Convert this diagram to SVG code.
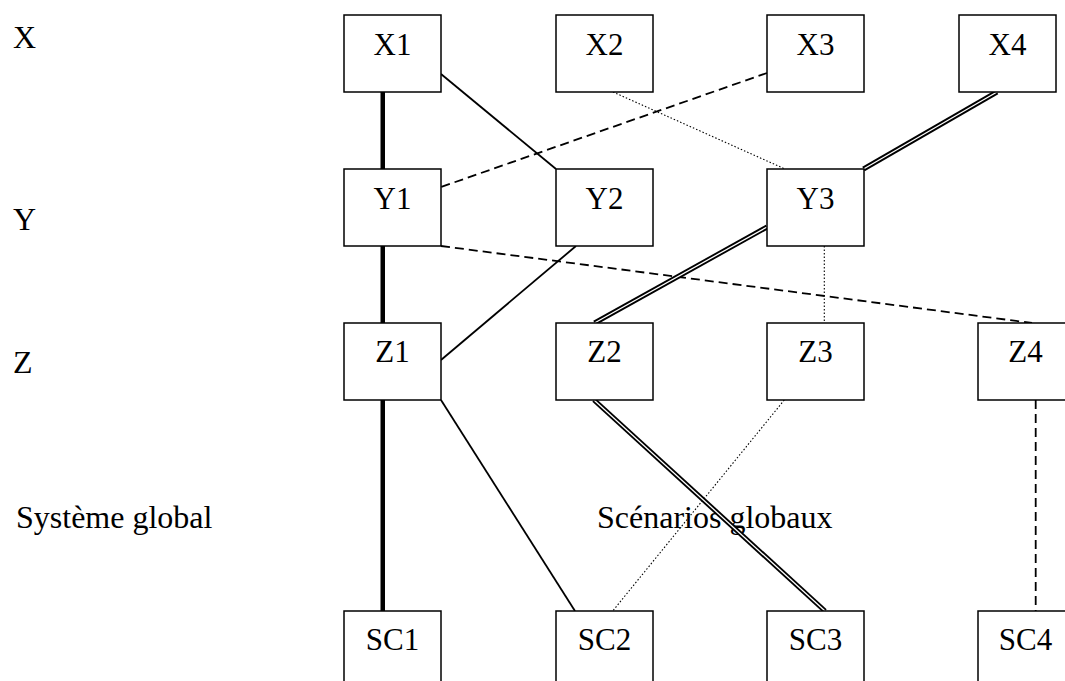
<svg xmlns="http://www.w3.org/2000/svg" width="1065" height="681" viewBox="0 0 1065 681">
  <style>
    text { font-family: "Liberation Serif", "Times New Roman", serif; font-size: 32px; fill: #000; }
    .lbl { text-anchor: middle; font-size: 31px; }
    .box { fill: #fff; stroke: #000; stroke-width: 1.5; }
    .thick { stroke: #000; stroke-width: 4.5; fill: none; }
    .thin { stroke: #000; stroke-width: 1.8; fill: none; }
    .dash { stroke: #000; stroke-width: 1.8; stroke-dasharray: 9 5; fill: none; }
    .dot { stroke: #000; stroke-width: 1.1; stroke-dasharray: 1.5 2; fill: none; }
    .dbl-out { stroke: #000; stroke-width: 5; fill: none; }
    .dbl-in { stroke: #fff; stroke-width: 1.3; fill: none; }
  </style>
  <rect width="1065" height="681" fill="#fff"/>

  <!-- level captions -->
  <g id="captions">
    <text x="13" y="48">X</text>
    <text x="13" y="230">Y</text>
    <text x="13" y="373">Z</text>
    <text x="16" y="528">Système global</text>
    <text x="597" y="528">Scénarios globaux</text>
  </g>

  <!-- links between levels -->
  <g id="connectors">
    <!-- thick solid chain down the first column -->
    <line class="thick" x1="382.75" y1="92" x2="382.75" y2="169"/>
    <line class="thick" x1="382.75" y1="246" x2="382.75" y2="323"/>
    <line class="thick" x1="382.75" y1="400" x2="382.75" y2="611"/>
    <!-- thin solid -->
    <line class="thin" x1="441" y1="74" x2="556" y2="169"/>
    <line class="thin" x1="576" y1="246" x2="441" y2="360"/>
    <line class="thin" x1="441" y1="400" x2="575" y2="611"/>
    <!-- dashed -->
    <line class="dash" x1="767" y1="73" x2="441" y2="187"/>
    <line class="dash" x1="441" y1="246" x2="1032" y2="323"/>
    <line class="dash" x1="1035.7" y1="400" x2="1035.7" y2="611"/>
    <!-- dotted -->
    <line class="dot" x1="613" y1="92" x2="785" y2="169"/>
    <line class="dot" x1="824.3" y1="246" x2="824.3" y2="323"/>
    <line class="dot" x1="784.3" y1="400" x2="612.7" y2="611"/>
    <!-- double lines -->
    <g id="dbl-x4-y3">
      <line class="dbl-out" x1="997" y1="92" x2="863.5" y2="169"/>
      <line class="dbl-in" x1="997" y1="92" x2="863.5" y2="169"/>
    </g>
    <g id="dbl-y3-z2">
      <line class="dbl-out" x1="767" y1="227" x2="594.5" y2="323"/>
      <line class="dbl-in" x1="767" y1="227" x2="594.5" y2="323"/>
    </g>
    <g id="dbl-z2-sc3">
      <line class="dbl-out" x1="594" y1="400" x2="825" y2="611"/>
      <line class="dbl-in" x1="594" y1="400" x2="825" y2="611"/>
    </g>
  </g>

  <!-- row X -->
  <g id="X1"><rect class="box" x="344" y="15" width="97" height="77"/><text class="lbl" x="392.5" y="55">X1</text></g>
  <g id="X2"><rect class="box" x="556" y="15" width="97" height="77"/><text class="lbl" x="604.5" y="55">X2</text></g>
  <g id="X3"><rect class="box" x="767" y="15" width="97" height="77"/><text class="lbl" x="815.5" y="55">X3</text></g>
  <g id="X4"><rect class="box" x="959" y="15" width="97" height="77"/><text class="lbl" x="1007.5" y="55">X4</text></g>

  <!-- row Y -->
  <g id="Y1"><rect class="box" x="344" y="169" width="97" height="77"/><text class="lbl" x="392.5" y="209">Y1</text></g>
  <g id="Y2"><rect class="box" x="556" y="169" width="97" height="77"/><text class="lbl" x="604.5" y="209">Y2</text></g>
  <g id="Y3"><rect class="box" x="767" y="169" width="97" height="77"/><text class="lbl" x="815.5" y="209">Y3</text></g>

  <!-- row Z -->
  <g id="Z1"><rect class="box" x="344" y="323" width="97" height="77"/><text class="lbl" x="392.5" y="362">Z1</text></g>
  <g id="Z2"><rect class="box" x="556" y="323" width="97" height="77"/><text class="lbl" x="604.5" y="362">Z2</text></g>
  <g id="Z3"><rect class="box" x="767" y="323" width="97" height="77"/><text class="lbl" x="815.5" y="362">Z3</text></g>
  <g id="Z4"><rect class="box" x="978" y="323" width="97" height="77"/><text class="lbl" x="1025.5" y="362">Z4</text></g>

  <!-- scenarios -->
  <g id="SC1"><rect class="box" x="344" y="611" width="97" height="77"/><text class="lbl" x="392.5" y="650">SC1</text></g>
  <g id="SC2"><rect class="box" x="556" y="611" width="97" height="77"/><text class="lbl" x="604.5" y="650">SC2</text></g>
  <g id="SC3"><rect class="box" x="767" y="611" width="97" height="77"/><text class="lbl" x="815.5" y="650">SC3</text></g>
  <g id="SC4"><rect class="box" x="978" y="611" width="97" height="77"/><text class="lbl" x="1025.5" y="650">SC4</text></g>
</svg>
